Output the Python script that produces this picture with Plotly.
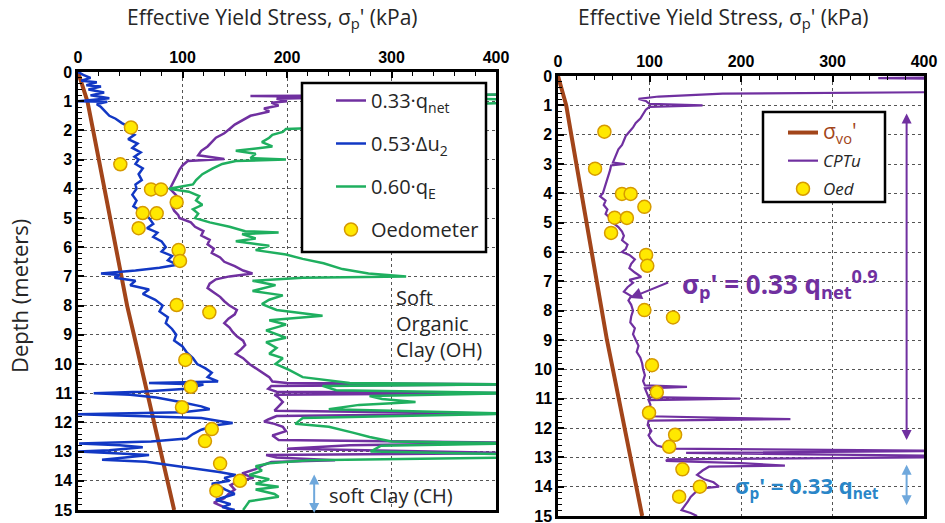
import plotly.graph_objects as go

# ---------------- data ----------------
# vertical effective overburden stress (kPa) vs depth (m)
svo_depth = [0, 0.5, 1, 2, 3, 4, 5, 6, 7, 8, 9, 10, 11, 12, 13, 14, 15]
svo_kpa = [0, 4.5, 9, 14.5, 20, 25.5, 31, 36.5, 42, 47, 53.5, 60, 66.5, 73, 79, 85.5, 92]

# oedometer yield stresses
oed_depth = [1.9, 3.16, 4.02, 4.02, 4.46, 4.83, 4.84, 5.35, 6.1, 6.47,
             7.98, 8.23, 9.86, 10.78, 11.48, 12.23, 12.64, 13.41, 14.0, 14.34]
oed_kpa = [50.7, 40.5, 69.9, 79.4, 94.4, 61.9, 75.3, 58, 96.3, 97.6,
           94.4, 125.7, 102.7, 108, 99.5, 128, 121.5, 136, 155, 132.4]

# 0.33 q_net profile
qnet_depth = [0.5, 0.78, 0.82, 0.86, 0.92, 1.0, 1.05, 1.15, 1.25, 1.35, 1.5, 1.65, 1.8, 1.95,
              2.1, 2.25, 2.4, 2.55, 2.7, 2.85, 2.98, 3.05, 3.2, 3.35, 3.5, 3.7, 3.85, 4.0,
              4.15, 4.3, 4.45, 4.6, 4.75, 4.9, 5.0, 5.15, 5.3, 5.45, 5.6, 5.75, 5.9, 6.05,
              6.2, 6.35, 6.5, 6.65, 6.8, 6.9, 7.0, 7.1, 7.25, 7.4, 7.55, 7.7, 7.85, 8.0,
              8.15, 8.3, 8.45, 8.6, 8.75, 8.9, 9.05, 9.2, 9.35, 9.5, 9.65, 9.8, 10.0,
              10.15, 10.3, 10.45, 10.6, 10.65, 10.7, 10.75, 10.85, 10.95, 11.0, 11.05,
              11.15, 11.3, 11.45, 11.6, 11.7, 11.78, 11.9, 11.97, 12.05, 12.15, 12.3,
              12.45, 12.6, 12.7, 12.78, 12.9, 13.05, 13.12, 13.2, 13.3, 13.36, 13.45,
              13.6, 13.75, 13.9, 14.0, 14.15, 14.3, 14.45, 14.6, 14.75, 14.9, 15.0]
qnet_kpa = [450, 420, 165, 260, 190, 200, 185, 192, 178, 183, 165, 158, 150, 145,
            140, 132, 128, 124, 118, 115, 140, 105, 100, 97, 95, 92, 90, 88,
            92, 96, 95, 90, 92, 96, 97, 108, 112, 120, 118, 126, 124, 130,
            128, 136, 140, 150, 158, 167, 145, 132, 126, 124, 130, 136, 140, 145,
            152, 150, 144, 140, 145, 148, 152, 158, 160, 156, 151, 158, 164,
            170, 176, 183, 186, 200, 420, 185, 182, 190, 420, 188,
            192, 196, 192, 188, 420, 190, 182, 178, 188, 196, 199,
            186, 192, 420, 260, 200, 420, 180, 190, 246, 185, 178,
            170, 157, 168, 154, 146, 150, 144, 140, 130, 140, 146]

# 0.53 delta-u2 profile
du2_depth = [0.0, 0.1, 0.2, 0.3, 0.35, 0.45, 0.5, 0.6, 0.7, 0.8, 0.9, 0.95, 1.0, 1.02,
             1.1, 1.2, 1.35, 1.5, 1.6, 1.75, 1.9, 2.0, 2.15, 2.3, 2.45, 2.6, 2.75, 2.9,
             3.0, 3.15, 3.3, 3.5, 3.7, 3.85, 4.0, 4.2, 4.4, 4.6, 4.8, 5.0, 5.2, 5.35,
             5.5, 5.65, 5.8, 6.0, 6.15, 6.3, 6.45, 6.6, 6.7, 6.8, 6.9, 6.95, 7.05, 7.15,
             7.3, 7.45, 7.6, 7.8, 8.0, 8.2, 8.4, 8.6, 8.8, 9.0, 9.2, 9.4, 9.6, 9.8,
             10.0, 10.15, 10.3, 10.45, 10.6, 10.65, 10.7, 10.85, 10.95, 11.0, 11.05,
             11.15, 11.3, 11.45, 11.55, 11.65, 11.72, 11.78, 11.85, 11.95, 12.02, 12.1,
             12.25, 12.4, 12.55, 12.65, 12.72, 12.78, 12.85, 12.95, 13.0, 13.05, 13.12,
             13.2, 13.28, 13.35, 13.5, 13.6, 13.7, 13.8, 13.9, 14.0, 14.1, 14.2, 14.3,
             14.45, 14.55, 14.65, 14.8, 14.9, 15.0]
du2_kpa = [0, 5, 12, 3, 18, 8, 22, 10, 25, 12, 30, 15, 0, 28,
           18, 22, 26, 30, 36, 42, 50, 46, 54, 48, 57, 52, 60, 54,
           58, 55, 62, 58, 61, 55, 56, 52, 56, 53, 62, 68, 72, 66,
           76, 72, 80, 84, 80, 90, 86, 95, 78, 55, 22, 40, 35, 55,
           50, 68, 62, 74, 81, 78, 86, 84, 90, 94, 92, 100, 104, 110,
           114, 122, 128, 124, 134, 68, 120, 104, 60, 15, 50,
           75, 98, 118, 126, 100, 0, 60, 118, 135, 148, 132,
           118, 110, 104, 70, 1, 40, 62, 30, 0, 30, 68,
           45, 23, 65, 96, 116, 135, 151, 140, 145, 128, 136, 141,
           150, 140, 132, 146, 138, 150]

# 0.60 q_E profile
qe_depth = [0.5, 0.7, 0.75, 0.85, 0.95, 1.05, 1.15, 1.4, 1.6, 1.8, 1.9, 1.95, 2.05, 2.15,
            2.25, 2.4, 2.55, 2.7, 2.8, 2.95, 3.0, 3.05, 3.15, 3.3, 3.5, 3.7, 3.85, 4.0,
            4.1, 4.25, 4.4, 4.55, 4.7, 4.85, 5.0, 5.15, 5.3, 5.45, 5.5, 5.55, 5.7, 5.8,
            5.95, 6.1, 6.25, 6.4, 6.55, 6.75, 6.9, 7.0, 7.05, 7.15, 7.3, 7.5, 7.65, 7.8,
            7.95, 8.15, 8.35, 8.5, 8.65, 8.85, 9.1, 9.25, 9.45, 9.65, 9.8, 10.0, 10.2,
            10.45, 10.65, 10.7, 10.75, 10.9, 11.0, 11.1, 11.2, 11.3, 11.4, 11.55, 11.7,
            11.85, 12.05, 12.15, 12.35, 12.5, 12.65, 12.72, 12.8, 13.0, 13.1, 13.2,
            13.3, 13.4, 13.5, 13.65, 13.8, 13.95, 14.1, 14.2, 14.3, 14.45, 14.55, 14.7,
            14.85, 15.0]
qe_kpa = [450, 420, 420, 300, 420, 420, 320, 290, 280, 260, 240, 199, 196, 186,
          183, 176, 186, 151, 170, 165, 199, 151, 138, 129, 119, 113, 110, 87,
          106, 116, 113, 119, 110, 115, 112, 126, 145, 160, 192, 157, 170, 151,
          183, 170, 199, 215, 235, 253, 278, 314, 215, 167, 189, 167, 196, 183,
          176, 190, 234, 183, 199, 180, 199, 180, 190, 183, 196, 189, 202,
          215, 260, 420, 234, 247, 420, 279, 291, 323, 269, 240, 420,
          215, 208, 240, 263, 279, 300, 420, 290, 280, 420, 420,
          221, 183, 170, 176, 164, 183, 170, 192, 170, 188, 192, 164,
          161, 158]

# CPTu-based yield stress profile
cptu_depth = [0.0, 0.05, 0.07, 0.1, 0.55, 0.6, 0.7, 0.78, 0.85, 0.95, 1.0, 1.05, 1.15, 1.3,
              1.45, 1.6, 1.75, 1.9, 2.05, 2.2, 2.35, 2.5, 2.65, 2.8, 2.95, 3.0, 3.05, 3.2,
              3.4, 3.6, 3.8, 4.0, 4.1, 4.25, 4.4, 4.55, 4.7, 4.85, 5.0, 5.15, 5.3, 5.45,
              5.6, 5.75, 5.9, 6.0, 6.1, 6.25, 6.4, 6.55, 6.7, 6.85, 6.95, 7.05, 7.2, 7.35,
              7.5, 7.65, 7.8, 8.0, 8.2, 8.4, 8.6, 8.8, 9.0, 9.2, 9.4, 9.6, 9.8, 10.0,
              10.2, 10.4, 10.55, 10.6, 10.65, 10.8, 10.95, 11.0, 11.05, 11.2, 11.4, 11.6,
              11.7, 11.75, 11.9, 12.1, 12.25, 12.45, 12.6, 12.7, 12.78, 12.85, 12.95,
              13.0, 13.07, 13.12, 13.2, 13.28, 13.32, 13.45, 13.6, 13.75, 13.85, 14.0,
              14.05, 14.2, 14.35, 14.5, 14.65, 14.8, 14.9, 15.0]
cptu_kpa = [420, 420, 350, 420, 420, 180, 110, 88, 96, 100, 158, 100, 96, 93,
            90, 85, 82, 78, 74, 72, 70, 66, 64, 62, 60, 73, 58, 57,
            55, 53, 51, 49, 46, 52, 50, 54, 52, 57, 60, 66, 70, 72,
            70, 76, 74, 70, 78, 84, 80, 78, 84, 91, 78, 82, 76, 72,
            80, 77, 80, 82, 80, 79, 84, 82, 85, 88, 86, 90, 92, 93,
            95, 93, 95, 141, 95, 97, 99, 199, 99, 101, 100, 100,
            254, 99, 98, 102, 99, 103, 108, 121, 420, 140, 420,
            420, 120, 118, 200, 248, 165, 158, 152, 160, 170, 176,
            160, 150, 145, 142, 138, 135, 145, 152]

# ---------------- styling ----------------
PURPLE = "#7030A0"
BLUE = "#1238C4"
GREEN = "#1FAF5F"
BROWN = "#A2451A"
LIGHTBLUE = "#6FA8DC"
TXTBLUE = "#2A86C8"
TXT = "#262626"
FONT = "Open Sans, Lato, sans-serif"
W, H = 945, 523


def px_x(p):
    return p / W


def px_y(p):
    return 1 - p / H


fig = go.Figure()

oed_marker = dict(symbol="circle", size=13, color="#FFE800",
                  line=dict(color="#D69A00", width=1.5))

# left panel
fig.add_trace(go.Scatter(x=svo_kpa, y=svo_depth, mode="lines", xaxis="x", yaxis="y",
                         line=dict(color=BROWN, width=4), showlegend=False))
fig.add_trace(go.Scatter(x=qnet_kpa, y=qnet_depth, mode="lines", xaxis="x", yaxis="y",
                         line=dict(color=PURPLE, width=2.5), name="0.33·q<sub>net</sub>",
                         legend="legend", legendgroup="a"))
fig.add_trace(go.Scatter(x=du2_kpa, y=du2_depth, mode="lines", xaxis="x", yaxis="y",
                         line=dict(color=BLUE, width=2.5), name="0.53·Δu<sub>2</sub>",
                         legend="legend", legendgroup="b"))
fig.add_trace(go.Scatter(x=qe_kpa, y=qe_depth, mode="lines", xaxis="x", yaxis="y",
                         line=dict(color=GREEN, width=2.5), name="0.60·q<sub>E</sub>",
                         legend="legend", legendgroup="c"))
fig.add_trace(go.Scatter(x=oed_kpa, y=oed_depth, mode="markers", xaxis="x", yaxis="y",
                         marker=oed_marker, name="Oedometer",
                         legend="legend", legendgroup="d"))

# right panel
fig.add_trace(go.Scatter(x=svo_kpa, y=svo_depth, mode="lines", xaxis="x2", yaxis="y2",
                         line=dict(color=BROWN, width=4),
                         name="<span style='color:%s;font-size:21px'>σ<sub>vo</sub>'</span>" % BROWN,
                         legend="legend2", legendgroup="e"))
fig.add_trace(go.Scatter(x=cptu_kpa, y=cptu_depth, mode="lines", xaxis="x2", yaxis="y2",
                         line=dict(color=PURPLE, width=2.2), name="<i>CPTu</i>",
                         legend="legend2", legendgroup="f"))
fig.add_trace(go.Scatter(x=oed_kpa, y=oed_depth, mode="markers", xaxis="x2", yaxis="y2",
                         marker=oed_marker, name="<i>Oed</i>",
                         legend="legend2", legendgroup="g"))

tickfont = dict(family="Liberation Sans, Arial", size=16, color="black", weight="bold")
xcommon = dict(range=[0, 400], side="top", dtick=100, tick0=0, showline=True, linewidth=2.5,
               linecolor="black", mirror=True, ticks="inside", ticklen=6, tickwidth=1.5,
               tickcolor="black", tickfont=tickfont, showgrid=True, gridcolor="#555555",
               griddash="dot", gridwidth=1, zeroline=False, automargin=False,
               ticklabeloverflow="allow",
               minor=dict(dtick=20, ticks="inside", ticklen=4, tickcolor="black",
                          tickwidth=1.2, showgrid=False))
ycommon = dict(range=[15, 0], dtick=1, tick0=0, showline=True, linewidth=2.5,
               linecolor="black", mirror=True, ticks="inside", ticklen=6, tickwidth=1.5,
               tickcolor="black", tickfont=tickfont, showgrid=True, gridcolor="#555555",
               griddash="dot", gridwidth=1, zeroline=False, automargin=False,
               ticklabeloverflow="allow",
               minor=dict(dtick=0.2, ticks="inside", ticklen=4, tickcolor="black",
                          tickwidth=1.2, showgrid=False))

fig.update_layout(
    width=W, height=H, margin=dict(l=0, r=0, t=0, b=0, autoexpand=False),
    paper_bgcolor="white", plot_bgcolor="white",
    font=dict(family=FONT, color=TXT),
    xaxis=dict(domain=[px_x(78), px_x(496)], anchor="y", **xcommon),
    yaxis=dict(domain=[px_y(510), px_y(72)], anchor="x", **ycommon),
    xaxis2=dict(domain=[px_x(558), px_x(924)], anchor="y2", **xcommon),
    yaxis2=dict(domain=[px_y(516), px_y(76)], anchor="x2", **ycommon),
    legend=dict(x=px_x(331), y=px_y(81), xanchor="left", yanchor="top",
                bgcolor="rgba(0,0,0,0)", borderwidth=0,
                font=dict(family=FONT, size=20, color=TXT),
                itemwidth=30, tracegroupgap=14, traceorder="grouped"),
    legend2=dict(x=px_x(783), y=px_y(115), xanchor="left", yanchor="top",
                 bgcolor="rgba(0,0,0,0)", borderwidth=0,
                 font=dict(family=FONT, size=17, color=TXT),
                 itemwidth=30, tracegroupgap=3, traceorder="grouped"),
)

# legend frames
fig.add_shape(type="rect", xref="paper", yref="paper",
              x0=px_x(302), x1=px_x(486), y0=px_y(252), y1=px_y(83),
              fillcolor="white", line=dict(color="black", width=2.5), layer="above")
fig.add_shape(type="rect", xref="paper", yref="paper",
              x0=px_x(763), x1=px_x(885), y0=px_y(202), y1=px_y(112),
              fillcolor="white", line=dict(color="black", width=2.5), layer="above")

title_txt = "Effective Yield Stress, σ<sub>p</sub>' (kPa)"
ann = [
    dict(text=title_txt, xref="paper", yref="paper", x=px_x(272), y=px_y(18),
         xanchor="center", yanchor="middle", showarrow=False,
         font=dict(size=21, family=FONT, color=TXT)),
    dict(text=title_txt, xref="paper", yref="paper", x=px_x(723), y=px_y(18),
         xanchor="center", yanchor="middle", showarrow=False,
         font=dict(size=21, family=FONT, color=TXT)),
    dict(text="Depth (meters)", xref="paper", yref="paper", x=px_x(19), y=px_y(296),
         xanchor="center", yanchor="middle", textangle=-90, showarrow=False,
         font=dict(size=22, family=FONT, color=TXT)),
    dict(text="Soft<br>Organic<br>Clay (OH)", xref="x", yref="y", x=302, y=8.6,
         xanchor="left", yanchor="middle", align="left", showarrow=False,
         font=dict(size=20, family=FONT, color=TXT)),
    dict(text="soft Clay (CH)", xref="x", yref="y", x=238, y=14.49,
         xanchor="left", yanchor="middle", showarrow=False,
         font=dict(size=20, family=FONT, color=TXT)),
    # light blue range arrow, left panel
    dict(text="", xref="x", yref="y", x=226, y=15.1, ax=226, ay=13.73,
         axref="x", ayref="y", showarrow=True, arrowside="end+start",
         arrowhead=2, startarrowhead=2, arrowsize=1, startarrowsize=1,
         arrowwidth=2, arrowcolor=LIGHTBLUE),
    # right panel annotations
    dict(text="σ<sub>p</sub>' = 0.33 q<sub>net</sub><sup>0.9</sup>", xref="x2", yref="y2",
         x=133, y=7.1, xanchor="left", yanchor="middle", showarrow=False,
         font=dict(size=26, family=FONT, color=PURPLE, weight="bold")),
    dict(text="", xref="x2", yref="y2", x=78.6, y=7.57, ax=122, ay=7.02,
         axref="x2", ayref="y2", showarrow=True, arrowhead=2, arrowsize=1.2,
         arrowwidth=2, arrowcolor=PURPLE),
    dict(text="", xref="x2", yref="y2", x=381, y=12.41, ax=381, ay=1.23,
         axref="x2", ayref="y2", showarrow=True, arrowside="end+start",
         arrowhead=2, startarrowhead=2, arrowsize=1, startarrowsize=1,
         arrowwidth=2, arrowcolor=PURPLE),
    dict(text="σ<sub>p</sub>' = 0.33 q<sub>net</sub>", xref="x2", yref="y2",
         x=191, y=14.0, xanchor="left", yanchor="middle", showarrow=False,
         font=dict(size=22, family=FONT, color=TXTBLUE, weight="bold")),
    dict(text="", xref="x2", yref="y2", x=381, y=14.63, ax=381, ay=13.2,
         axref="x2", ayref="y2", showarrow=True, arrowside="end+start",
         arrowhead=2, startarrowhead=2, arrowsize=1, startarrowsize=1,
         arrowwidth=2, arrowcolor=LIGHTBLUE),
]
fig.update_layout(annotations=ann)

fig.write_html("out.html")
